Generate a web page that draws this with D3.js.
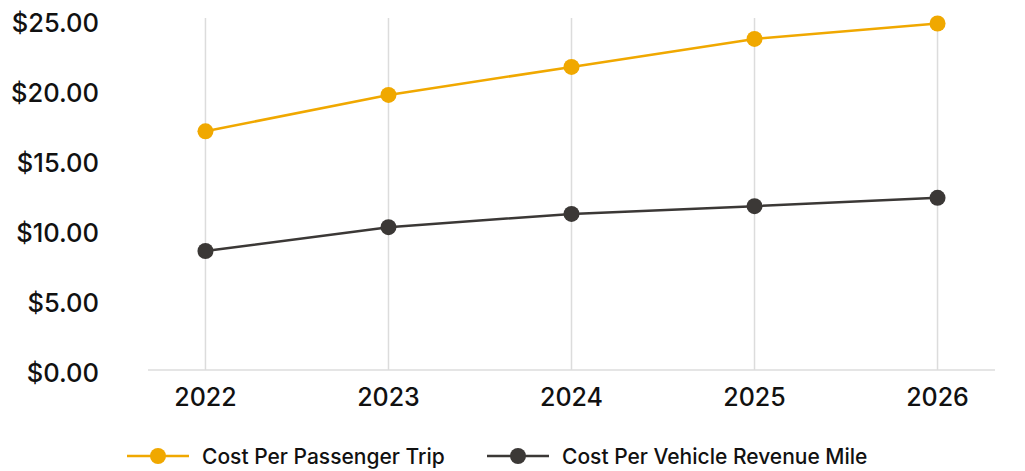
<!DOCTYPE html>
<html>
<head>
<meta charset="utf-8">
<script src="https://cdn.jsdelivr.net/npm/d3@7"></script>
<style>
body { margin: 0; background: #fff; }
text { font-family: Inter, "Noto Sans", sans-serif; fill: #111; }
</style>
</head>
<body>
<div id="chart"></div>
<script>
var years = ["2022", "2023", "2024", "2025", "2026"];
var passengerTrip = [17.05, 19.65, 21.65, 23.65, 24.75];
var vehicleMile = [8.5, 10.2, 11.15, 11.7, 12.3];
var yTicks = [0, 5, 10, 15, 20, 25];
var seriesNames = ["Cost Per Passenger Trip", "Cost Per Vehicle Revenue Mile"];
var colors = ["#f0a800", "#3b3836"];

var width = 1025, height = 471;
var svg = d3.select("#chart").append("svg")
    .attr("width", width)
    .attr("height", height);

var x = d3.scalePoint()
    .domain(years)
    .range([148, 995])
    .padding(0.314);
var y = d3.scaleLinear()
    .domain([0, 25])
    .range([370, 20]);

// vertical grid lines
svg.selectAll(".vgrid")
    .data(years)
    .enter().append("line")
    .attr("x1", function(d) { return x(d); })
    .attr("x2", function(d) { return x(d); })
    .attr("y1", y(25.15))
    .attr("y2", y(0))
    .attr("stroke", "#dcdcdc")
    .attr("stroke-width", 1.5);

// baseline
svg.append("line")
    .attr("x1", 148).attr("x2", 995)
    .attr("y1", y(0)).attr("y2", y(0))
    .attr("stroke", "#dcdcdc")
    .attr("stroke-width", 1.5);

// y labels
svg.selectAll(".ylab")
    .data(yTicks)
    .enter().append("text")
    .attr("x", 99)
    .attr("y", function(d) { return y(d) + 5; })
    .attr("text-anchor", "end")
    .attr("dominant-baseline", "middle")
    .style("font-size", "25.5px")
    .style("font-weight", 500)
    .text(function(d) { return "$" + d3.format(".2f")(d); });

// x labels
svg.selectAll(".xlab")
    .data(years)
    .enter().append("text")
    .attr("x", function(d) { return x(d); })
    .attr("y", 399)
    .attr("text-anchor", "middle")
    .attr("dominant-baseline", "middle")
    .style("font-size", "25px")
    .style("font-weight", 500)
    .text(function(d) { return d; });

var line = d3.line()
    .x(function(d, i) { return x(years[i]); })
    .y(function(d) { return y(d); });

[passengerTrip, vehicleMile].forEach(function(series, s) {
    svg.append("path")
        .datum(series)
        .attr("d", line)
        .attr("fill", "none")
        .attr("stroke", colors[s])
        .attr("stroke-width", 2.5);
    svg.selectAll(".pt" + s)
        .data(series)
        .enter().append("circle")
        .attr("cx", function(d, i) { return x(years[i]); })
        .attr("cy", function(d) { return y(d); })
        .attr("r", 8)
        .attr("fill", colors[s]);
});

// legend
var legendX = [127, 487];
seriesNames.forEach(function(name, s) {
    var g = svg.append("g").attr("transform", "translate(" + legendX[s] + ",456)");
    g.append("line")
        .attr("x1", 0).attr("x2", 62)
        .attr("y1", 0).attr("y2", 0)
        .attr("stroke", colors[s])
        .attr("stroke-width", 2.5);
    g.append("circle")
        .attr("cx", 31).attr("cy", 0)
        .attr("r", 8)
        .attr("fill", colors[s]);
    g.append("text")
        .attr("x", 75)
        .attr("y", 2)
        .attr("dominant-baseline", "middle")
        .style("font-size", "21px")
        .style("font-weight", 500)
        .text(name);
});
</script>
</body>
</html>
